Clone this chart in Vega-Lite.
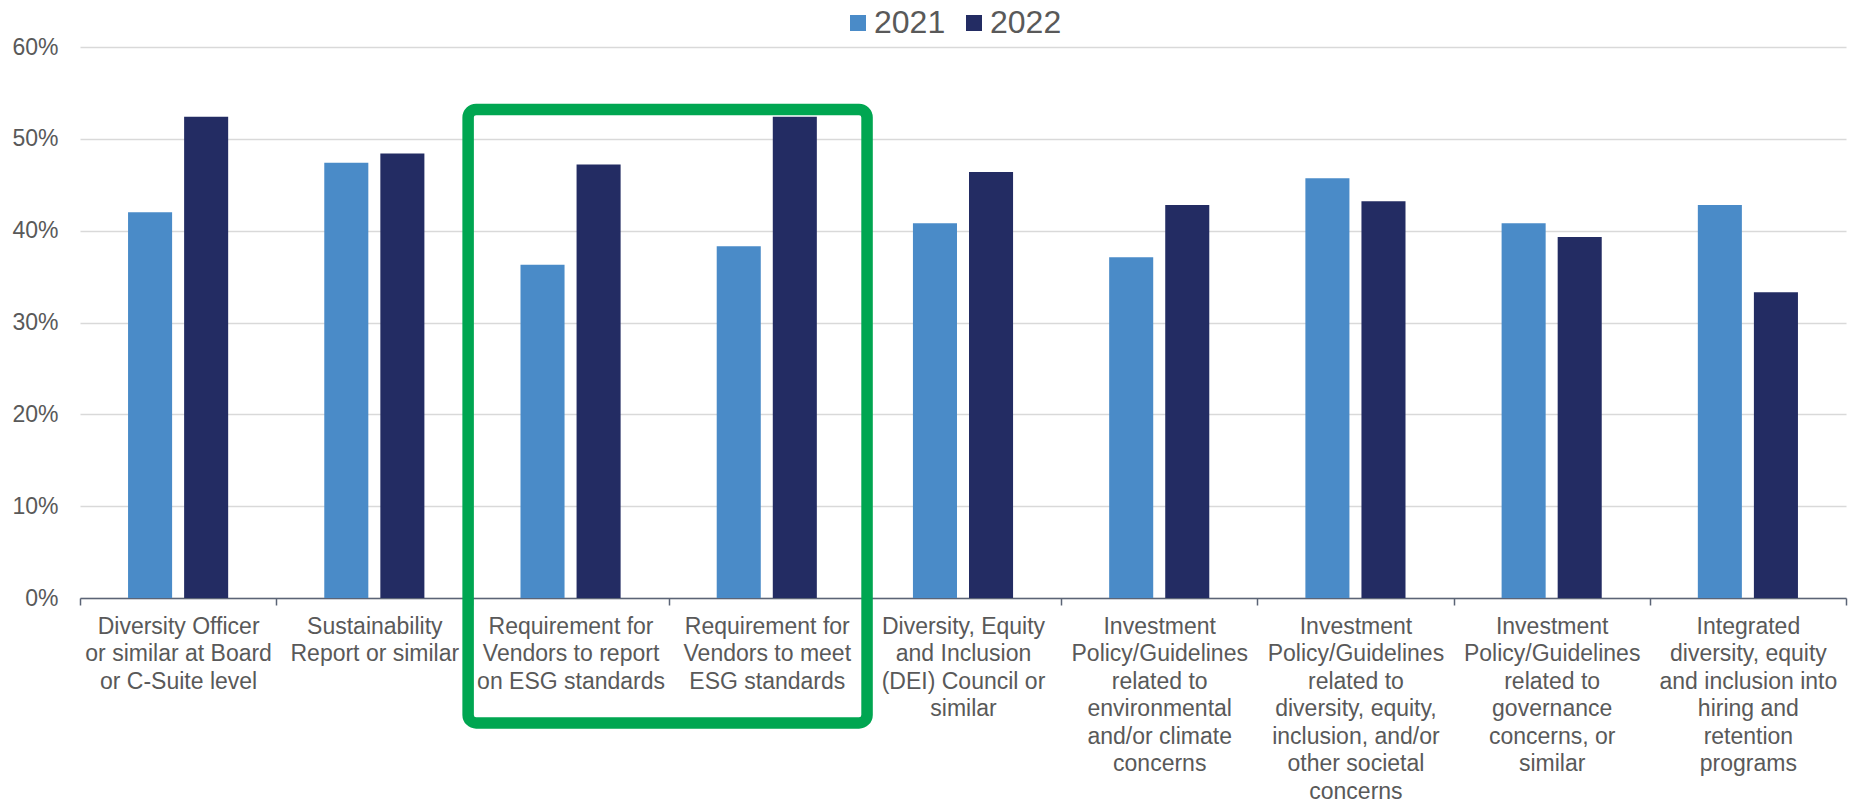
{
  "$schema": "https://vega.github.io/schema/vega-lite/v6.json",
  "width": 1766,
  "height": 551,
  "autosize": {"type": "none"},
  "padding": {"left": 80, "top": 47, "right": 14, "bottom": 204},
  "background": "white",
  "config": {
    "view": {"stroke": null},
    "font": "Liberation Sans"
  },
  "datasets": {
    "bars": [
      {"cat": "Diversity Officer|or similar at Board|or C-Suite level", "year": "2021", "value": 0.420},
      {"cat": "Diversity Officer|or similar at Board|or C-Suite level", "year": "2022", "value": 0.524},
      {"cat": "Sustainability|Report or similar", "year": "2021", "value": 0.474},
      {"cat": "Sustainability|Report or similar", "year": "2022", "value": 0.484},
      {"cat": "Requirement for|Vendors to report|on ESG standards", "year": "2021", "value": 0.363},
      {"cat": "Requirement for|Vendors to report|on ESG standards", "year": "2022", "value": 0.472},
      {"cat": "Requirement for|Vendors to meet|ESG standards", "year": "2021", "value": 0.383},
      {"cat": "Requirement for|Vendors to meet|ESG standards", "year": "2022", "value": 0.524},
      {"cat": "Diversity, Equity|and Inclusion|(DEI) Council or|similar", "year": "2021", "value": 0.408},
      {"cat": "Diversity, Equity|and Inclusion|(DEI) Council or|similar", "year": "2022", "value": 0.464},
      {"cat": "Investment|Policy/Guidelines|related to|environmental|and/or climate|concerns", "year": "2021", "value": 0.371},
      {"cat": "Investment|Policy/Guidelines|related to|environmental|and/or climate|concerns", "year": "2022", "value": 0.428},
      {"cat": "Investment|Policy/Guidelines|related to|diversity, equity,|inclusion, and/or|other societal|concerns", "year": "2021", "value": 0.457},
      {"cat": "Investment|Policy/Guidelines|related to|diversity, equity,|inclusion, and/or|other societal|concerns", "year": "2022", "value": 0.432},
      {"cat": "Investment|Policy/Guidelines|related to|governance|concerns, or|similar", "year": "2021", "value": 0.408},
      {"cat": "Investment|Policy/Guidelines|related to|governance|concerns, or|similar", "year": "2022", "value": 0.393},
      {"cat": "Integrated|diversity, equity|and inclusion into|hiring and|retention|programs", "year": "2021", "value": 0.428},
      {"cat": "Integrated|diversity, equity|and inclusion into|hiring and|retention|programs", "year": "2022", "value": 0.333}
    ],
    "box": [
      {"x0": 1.978, "x1": 4.011, "top": 0.532, "bottom": -0.136}
    ]
  },
  "layer": [
    {
      "data": {"name": "bars"},
      "mark": {"type": "bar"},
      "encoding": {
        "x": {
          "field": "cat",
          "type": "nominal",
          "sort": null,
          "scale": {"paddingInner": 0, "paddingOuter": 0},
          "axis": {
            "title": null,
            "labelAngle": 0,
            "labelExpr": "isString(datum.value) ? split(datum.value, '|') : ''",
            "labelFontSize": 23,
            "labelLineHeight": 27.5,
            "labelColor": "#595959",
            "labelLimit": 0,
            "labelPadding": 10,
            "labelBaseline": "top",
            "tickBand": "extent",
            "ticks": true,
            "tickSize": 7,
            "tickColor": "#5b6476",
            "tickWidth": 1.5,
            "domainColor": "#5b6476",
            "domainWidth": 1.5,
            "grid": false
          }
        },
        "xOffset": {
          "field": "year",
          "type": "nominal",
          "sort": ["2021", "2022"],
          "scale": {"paddingInner": 0.2143, "paddingOuter": 0.857}
        },
        "y": {
          "field": "value",
          "type": "quantitative",
          "scale": {"domain": [0, 0.6], "nice": false},
          "axis": {
            "title": null,
            "format": ".0%",
            "values": [0, 0.1, 0.2, 0.3, 0.4, 0.5, 0.6],
            "domain": false,
            "ticks": false,
            "labelFontSize": 23,
            "labelColor": "#595959",
            "labelPadding": 22,
            "gridColor": "#d9d9d9",
            "gridWidth": 1.5
          }
        },
        "color": {
          "field": "year",
          "type": "nominal",
          "scale": {"domain": ["2021", "2022"], "range": ["#4a8bc8", "#232c63"]},
          "legend": {
            "title": null,
            "orient": "none",
            "direction": "horizontal",
            "legendX": 762,
            "legendY": -40,
            "symbolType": "square",
            "symbolSize": 256,
            "symbolStrokeWidth": 0,
            "labelFontSize": 32,
            "labelColor": "#595959",
            "labelOffset": 0,
            "columnPadding": 12
          }
        }
      }
    },
    {
      "data": {"name": "box"},
      "mark": {"type": "rect", "filled": false, "stroke": "#00a651", "strokeWidth": 11.5, "cornerRadius": 8, "clip": false},
      "encoding": {
        "x": {"field": "x0", "type": "quantitative", "scale": {"domain": [0, 9], "nice": false, "zero": false}, "axis": null},
        "x2": {"field": "x1"},
        "y": {"field": "top", "type": "quantitative", "scale": {"domain": [0, 0.6], "nice": false}},
        "y2": {"field": "bottom"}
      }
    }
  ],
  "resolve": {"scale": {"x": "independent"}, "axis": {"x": "independent"}}
}
